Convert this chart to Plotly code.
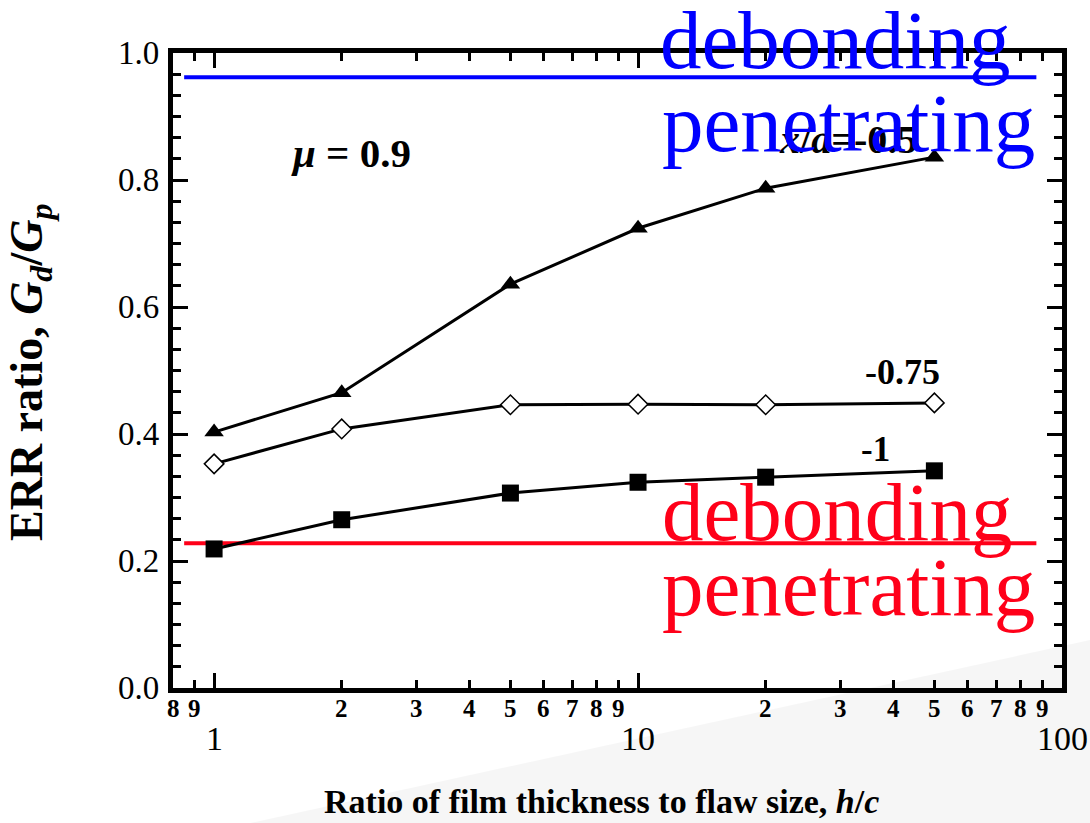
import plotly.graph_objects as go
import numpy as np

# ---- data ----
hc = [1, 2, 5, 10, 20, 50]
err_m05 = [0.403, 0.465, 0.636, 0.724, 0.787, 0.836]
err_m075 = [0.353, 0.408, 0.446, 0.447, 0.446, 0.449]
err_m1 = [0.219, 0.265, 0.307, 0.324, 0.332, 0.342]
blue_level = 0.962
red_level = 0.228
line_x = [0.85, 87]

y_ticks = [0.0, 0.2, 0.4, 0.6, 0.8, 1.0]
y_tick_labels = ["0.0", "0.2", "0.4", "0.6", "0.8", "1.0"]
x_major = [1, 10, 100]
x_major_labels = ["1", "10", "100"]
x_minor = [0.8, 0.9, 2, 3, 4, 5, 6, 7, 8, 9, 20, 30, 40, 50, 60, 70, 80, 90]
x_minor_labels = ["8", "9", "2", "3", "4", "5", "6", "7", "8", "9",
                  "2", "3", "4", "5", "6", "7", "8", "9"]

SERIF = "Liberation Serif"
W, H = 1090, 823
L, R, T, B = 173, 1062, 53, 688
XR = [np.log10(0.8), 2.0]
YR = [0.0, 1.0]

fig = go.Figure()

# reference lines
fig.add_trace(go.Scatter(x=line_x, y=[blue_level, blue_level], mode="lines",
                         line=dict(color="#0000ff", width=4), showlegend=False, hoverinfo="skip"))
fig.add_trace(go.Scatter(x=line_x, y=[red_level, red_level], mode="lines",
                         line=dict(color="#ff0019", width=4), showlegend=False, hoverinfo="skip"))

fig.add_trace(go.Scatter(x=hc, y=err_m05, mode="lines+markers",
                         line=dict(color="black", width=3),
                         marker=dict(symbol="triangle-up", size=17, color="black"),
                         showlegend=False))
fig.add_trace(go.Scatter(x=hc, y=err_m075, mode="lines+markers",
                         line=dict(color="black", width=3),
                         marker=dict(symbol="diamond", size=15, color="white",
                                     line=dict(color="black", width=1.5)),
                         showlegend=False))
fig.add_trace(go.Scatter(x=hc, y=err_m1, mode="lines+markers",
                         line=dict(color="black", width=3),
                         marker=dict(symbol="square", size=17, color="black"),
                         showlegend=False))

def pp(px, py):
    return (px - L) / (R - L), (B - py) / (B - T)

ann = []
# y tick labels
for v, t in zip(y_ticks, y_tick_labels):
    ann.append(dict(x=-12 / (R - L), xref="paper", y=v, yref="y", text=t,
                    showarrow=False, xanchor="right", yanchor="middle",
                    font=dict(family=SERIF, size=33, color="black")))
# x minor labels
for v, t in zip(x_minor, x_minor_labels):
    ann.append(dict(x=np.log10(v), xref="x", y=(B - 708) / (B - T), yref="paper",
                    text="<b>" + t + "</b>",
                    showarrow=False, xanchor="center", yanchor="middle",
                    font=dict(family=SERIF, size=25, color="black")))
# x major labels
for v, t in zip(x_major, x_major_labels):
    ann.append(dict(x=np.log10(v), xref="x", y=(B - 738) / (B - T), yref="paper", text=t,
                    showarrow=False, xanchor="center", yanchor="middle",
                    font=dict(family=SERIF, size=34, color="black")))

def label(px, py, text, size, color="black", xa="center", ya="middle", angle=0):
    x, y = pp(px, py)
    ann.append(dict(x=x, y=y, xref="paper", yref="paper", showarrow=False,
                    xanchor=xa, yanchor=ya, textangle=angle, text=text,
                    font=dict(family=SERIF, size=size, color=color)))

# axis titles
label(601, 801, "<b>Ratio of film thickness to flaw size, <i>h</i>/<i>c</i></b>", 34)
label(30, 372, "<b>ERR ratio, <i>G<sub>d</sub></i>/<i>G<sub>p</sub></i></b>", 46, angle=-90)

# inner labels
label(289, 153, "<b><i>μ</i> = 0.9</b>", 41, xa="left")
label(777, 139, "<b><i>x</i>/<i>a</i>=-0.5</b>", 40, xa="left")
label(902, 372, "<b>-0.75</b>", 36)
label(875, 449, "<b>-1</b>", 35)

# big region labels
for txt, cx, cy, col in [("debonding", 658, 40, "#0000ff"),
                         ("penetrating", 660, 123, "#0000ff"),
                         ("debonding", 660, 512, "#ff0019"),
                         ("penetrating", 660, 587, "#ff0019")]:
    label(cx, cy, txt, 83, color=col, xa="left")

# faint slide-background shading (bottom right)
def pth(points):
    s = ""
    for i, (px, py) in enumerate(points):
        x, y = pp(px, py)
        s += ("M" if i == 0 else "L") + f"{x:.4f},{y:.4f} "
    return s + "Z"

shapes = [dict(type="path", xref="paper", yref="paper", layer="below",
               path=pth([(250, 823), (1090, 640), (1090, 823)]),
               fillcolor="rgba(0,0,0,0.035)", line=dict(width=0))]

fig.update_layout(
    width=W, height=H,
    margin=dict(l=L, r=W - R, t=T, b=H - B, pad=0),
    paper_bgcolor="white", plot_bgcolor="rgba(0,0,0,0)",
    showlegend=False,
    annotations=ann,
    shapes=shapes,
    xaxis=dict(type="log", range=XR, showgrid=False, zeroline=False,
               showline=True, linecolor="black", linewidth=5, mirror="ticks",
               ticks="inside", ticklen=15, tickwidth=3, tickcolor="black",
               tickvals=x_major, showticklabels=False,
               minor=dict(tickvals=x_minor, ticks="inside", ticklen=8,
                          tickwidth=3, tickcolor="black", showgrid=False)),
    yaxis=dict(range=YR, showgrid=False, zeroline=False,
               showline=True, linecolor="black", linewidth=5, mirror="ticks",
               ticks="inside", ticklen=15, tickwidth=3, tickcolor="black",
               tickvals=y_ticks, showticklabels=False,
               minor=dict(dtick=0.2 / 6, ticks="inside", ticklen=8,
                          tickwidth=3, tickcolor="black", showgrid=False)),
)

fig.write_html("out.html")
